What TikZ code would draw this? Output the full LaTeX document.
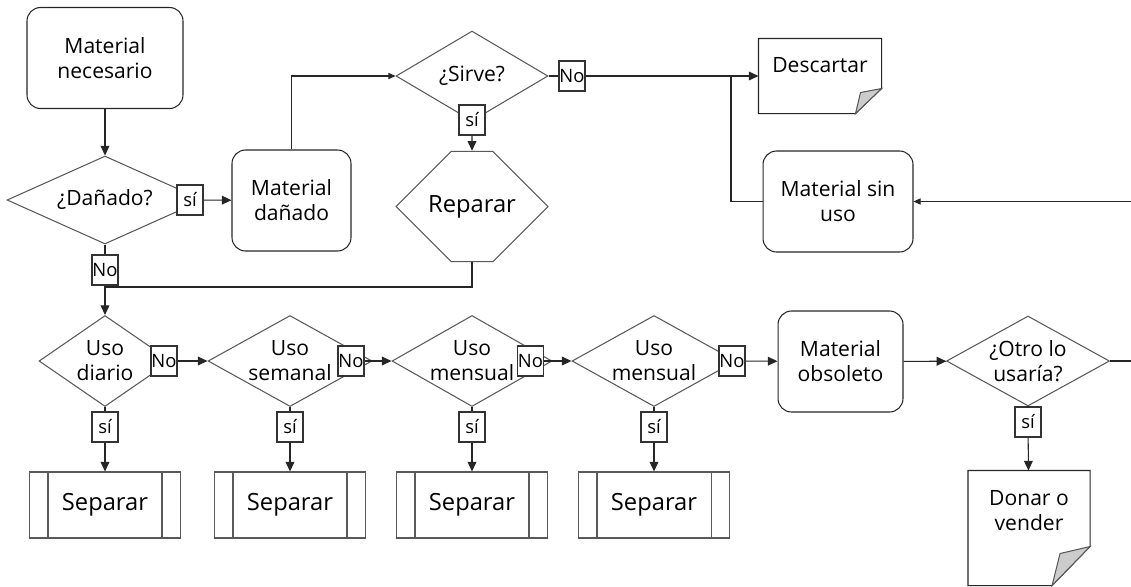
\documentclass[tikz,border=0pt]{standalone}
\usepackage{fontspec}
\setmainfont{Open Sans}
\usetikzlibrary{shapes.geometric, shapes.misc, arrows.meta, positioning}

\begin{document}
\begin{tikzpicture}[
    x=0.02cm, y=-0.02cm,
    line width=0.6pt,
    font=\fontsize{12}{14.2}\selectfont,
    procbox/.style={rectangle, draw=black!85, rounded corners=0.27cm, align=center, inner sep=0pt, minimum height=2.02cm},
    decision/.style={diamond, aspect=1.8, draw=black!65, align=center, inner sep=0pt, minimum height=1.82cm},
    hexbox/.style={chamfered rectangle, chamfered rectangle xsep=0.52cm, chamfered rectangle ysep=1.05cm, draw=black!65, minimum width=3.04cm, minimum height=2.1cm, inner sep=0pt, font=\fontsize{13.5}{16}\selectfont},
    sepbox/.style={rectangle, draw=black!65, minimum width=3.02cm, minimum height=1.32cm, inner sep=0pt, font=\fontsize{13.5}{16}\selectfont,
        append after command={([xshift=0.38cm]\tikzlastnode.north west) edge[draw=black!65] ([xshift=0.38cm]\tikzlastnode.south west)
                              ([xshift=-0.38cm]\tikzlastnode.north east) edge[draw=black!65] ([xshift=-0.38cm]\tikzlastnode.south east)}},
    docbox/.style={rectangle, inner sep=0pt, align=center},
    docline/.style={draw=black!85},
    foldfill/.style={fill=black!20, draw=black!65},
    tagbox/.style={rectangle, draw=black!80, fill=white, inner sep=0pt, minimum width=0.52cm, minimum height=0.6cm, font=\fontsize{10.5}{12}\selectfont},
    link/.style={draw=black!85},
    arrow/.style={link, -{Triangle[length=5.5pt, width=5pt]}},
    thinarrow/.style={link, -{Triangle[length=4pt, width=3.5pt]}}
]
\useasboundingbox (0,0) rectangle (1131,586);

% Upper part: damage check and repair
\node[procbox, minimum width=3.12cm] (need) at (105,58) {Material\\necesario};
\node[decision, minimum width=3.92cm, minimum height=1.76cm] (dmg) at (105,200) {¿Dañado?};
\node[procbox, minimum width=2.38cm] (mdam) at (291.5,200.5) {Material\\dañado};
\node[decision, minimum width=3.04cm, minimum height=1.8cm] (sirve) at (472,76) {¿Sirve?};
\node[hexbox] (rep) at (472,206.5) {Reparar};
\node[docbox, minimum width=2.44cm, text height=0.66cm, text depth=0.82cm] (disc) at (820,76) {Descartar};
\node[procbox, minimum width=3.0cm] (sinuso) at (838,201.5) {Material sin\\uso};

% Lower part: how often it is used
\node[decision, minimum width=2.64cm] (diario) at (105,361) {Uso\\diario};
\node[decision, minimum width=3.28cm] (semanal) at (290,361) {Uso\\semanal};
\node[decision, minimum width=3.2cm] (mensual) at (472,361) {Uso\\mensual};
\node[decision, minimum width=3.28cm] (mensual2) at (654,361) {Uso\\mensual};
\node[procbox, minimum width=2.5cm] (obsol) at (840.5,361.5) {Material\\obsoleto};
\node[decision, minimum width=3.26cm, minimum height=1.8cm] (otro) at (1028,361) {¿Otro lo\\usaría?};

\node[sepbox] (sep1) at (105,505) {Separar};
\node[sepbox] (sep2) at (290,505) {Separar};
\node[sepbox] (sep3) at (472,505) {Separar};
\node[sepbox] (sep4) at (654,505) {Separar};
\node[docbox, minimum width=2.42cm, text height=1.18cm, text depth=1.10cm] (donar) at (1029,528) {Donar o\\vender};

% Document outlines with folded corner
\draw[docline] (disc.north west) -- (disc.north east) -- ([yshift=0.5cm]disc.south east) -- ([xshift=-0.52cm]disc.south east) -- (disc.south west) -- cycle;
\draw[foldfill] ([yshift=0.5cm]disc.south east) -- ([xshift=-0.42cm, yshift=0.42cm]disc.south east) -- ([xshift=-0.52cm]disc.south east) -- cycle;
\draw[docline] (donar.north west) -- (donar.north east) -- ([yshift=0.78cm]donar.south east) -- ([xshift=-0.76cm]donar.south east) -- (donar.south west) -- cycle;
\draw[foldfill] ([yshift=0.78cm]donar.south east) -- ([xshift=-0.6cm, yshift=0.64cm]donar.south east) -- ([xshift=-0.76cm]donar.south east) -- cycle;

% Yes / no tags
\node[tagbox] (dmg_si) at (190,200) {sí};
\node[tagbox] (dmg_no) at (105,270) {No};
\node[tagbox] (sirve_no) at (572,76) {No};
\node[tagbox] (sirve_si) at (472,120) {sí};
\node[tagbox] (diario_no) at (164,361) {No};
\node[tagbox] (semanal_no) at (351,361) {No};
\node[tagbox] (mensual_no) at (530.5,361) {No};
\node[tagbox] (mensual2_no) at (732,361) {No};
\node[tagbox] (diario_si) at (105,427) {sí};
\node[tagbox] (semanal_si) at (290,427) {sí};
\node[tagbox] (mensual_si) at (472,427) {sí};
\node[tagbox] (mensual2_si) at (654,427) {sí};
\node[tagbox] (otro_si) at (1028,422) {sí};

\coordinate (merge) at (105,287);
\coordinate (disc_join) at (731,76);
\coordinate (edge_in) at (1131,201.5);
\coordinate (edge_out) at (1131,361);

% Connections
\draw[arrow] (need) -- (dmg);
\draw[arrow] (dmg_si) -- (mdam);
\draw[link] (dmg) -- (dmg_no);
\draw[arrow] (dmg_no) -- (diario);
\draw[thinarrow] (mdam) |- (sirve);
\draw[link] (sirve) -- (sirve_no);
\draw[arrow] (sirve_no) -- (disc);
\draw[arrow] (sirve_si) -- (rep);
\draw[link] (rep) |- (merge);
\draw[link] (sinuso) -| (disc_join);
\draw[thinarrow] (edge_in) -- (sinuso);

\draw[arrow] (diario_no) -- (semanal);
\draw[arrow] (semanal_no) -- (mensual);
\draw[arrow] (mensual_no) -- (mensual2);
\draw[arrow] (mensual2_no) -- (obsol);
\draw[arrow] (obsol) -- (otro);
\draw[link] (otro) -- (edge_out);

\draw[link] (diario) -- (diario_si);
\draw[arrow] (diario_si) -- (sep1);
\draw[link] (semanal) -- (semanal_si);
\draw[arrow] (semanal_si) -- (sep2);
\draw[link] (mensual) -- (mensual_si);
\draw[arrow] (mensual_si) -- (sep3);
\draw[link] (mensual2) -- (mensual2_si);
\draw[arrow] (mensual2_si) -- (sep4);
\draw[link] (otro) -- (otro_si);
\draw[arrow] (otro_si) -- (donar);

\end{tikzpicture}
\end{document}
